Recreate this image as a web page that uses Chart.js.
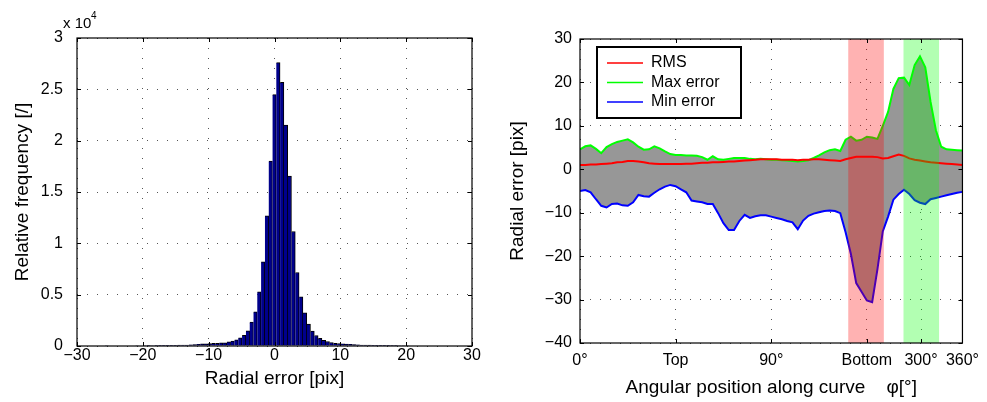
<!DOCTYPE html>
<html lang="en">
<head>
<meta charset="UTF-8">
<title>Radial error</title>
<script src="https://cdn.jsdelivr.net/npm/chart.js@4.4.1/dist/chart.umd.min.js"></script>
<style>
  body { margin: 0; background: #fff; }
  #wrap { position: relative; width: 987px; height: 402px; }
  canvas { position: absolute; top: 0; }
  #histChart { left: 0; }
  #errChart { left: 490px; }
</style>
</head>
<body>
<div id="wrap">
  <canvas id="histChart" width="490" height="402"></canvas>
  <canvas id="errChart" width="497" height="402"></canvas>
</div>
<script>
// --- histogram of radial error (bin centres in pix, counts) ---
const binCenters = [
  -25.45, -24.87, -24.29, -23.72, -23.14, -22.56, -21.98, -21.40, -20.83, -20.25,
  -19.67, -19.09, -18.51, -17.94, -17.36, -16.78, -16.20, -15.62, -15.05, -14.47,
  -13.89, -13.31, -12.73, -12.16, -11.58, -11.00, -10.42, -9.84, -9.27, -8.69,
  -8.11, -7.53, -6.95, -6.38, -5.80, -5.22, -4.64, -4.06, -3.49, -2.91,
  -2.33, -1.75, -1.17, -0.60, -0.02, 0.56, 1.14, 1.72, 2.29, 2.87,
  3.45, 4.03, 4.61, 5.18, 5.76, 6.34, 6.92, 7.50, 8.07, 8.65,
  9.23, 9.81, 10.39, 10.96, 11.54, 12.12, 12.70, 13.28, 13.85, 14.43,
  15.01, 15.59, 16.17, 16.74, 17.32, 17.90, 18.48, 19.06, 19.63, 20.21,
  20.79, 21.37, 21.95, 22.52, 23.10, 23.68, 24.26, 24.84, 25.41, 25.99,
  26.57, 27.15, 27.73, 28.30
];
const binCounts = [
  50, 45, 40, 40, 45, 40, 40, 45, 50, 45,
  50, 55, 50, 55, 60, 60, 65, 70, 75, 80,
  90, 100, 110, 130, 160, 200, 200, 230, 260, 260,
  320, 320, 400, 480, 610, 790, 1050, 1470, 2320, 3330,
  5280, 8200, 12680, 18020, 24480, 27600, 25670, 21520, 16560, 11150,
  7160, 4800, 3240, 2140, 1450, 1020, 750, 550, 440, 340,
  270, 240, 210, 180, 160, 130, 110, 100, 90, 80,
  75, 70, 65, 60, 60, 55, 55, 50, 50, 50,
  45, 45, 45, 40, 40, 40, 40, 40, 40, 40,
  40, 40, 40, 40
];

// --- radial error along the curve ---
const angles = [
  0, 5, 10, 15, 20, 25, 30, 35, 40, 45, 50, 55, 60, 65, 70, 75, 80, 85, 90, 95,
  100, 105, 110, 115, 120, 125, 130, 135, 140, 145, 150, 155, 160, 165, 170, 175, 180, 185, 190, 195,
  200, 205, 210, 215, 220, 225, 230, 235, 240, 245, 250, 255, 260, 265, 270, 275, 280, 285, 290, 295,
  300, 305, 310, 315, 320, 325, 330, 335, 340, 345, 350, 355, 360
];
const rmsErr = [
  1.0, 1.0, 1.1, 1.1, 1.2, 1.3, 1.4, 1.6, 1.7, 1.9, 1.9, 1.8, 1.6, 1.4, 1.3, 1.2, 1.2, 1.2, 1.2, 1.2,
  1.3, 1.3, 1.4, 1.5, 1.5, 1.6, 1.6, 1.7, 1.8, 1.8, 1.9, 2.0, 2.1, 2.2, 2.3, 2.3, 2.3, 2.3, 2.2, 2.2,
  2.2, 2.1, 2.2, 2.2, 2.3, 2.3, 2.2, 2.1, 2.0, 1.9, 2.3, 2.6, 2.9, 2.9, 2.9, 2.9, 2.8, 2.5, 2.6, 3.0,
  3.4, 3.1, 2.5, 2.2, 2.0, 1.8, 1.6, 1.5, 1.4, 1.3, 1.2, 1.1, 1.0
];
const maxErr = [
  4.6, 5.3, 5.5, 4.7, 3.7, 5.1, 5.8, 6.3, 6.6, 6.9, 6.2, 5.2, 4.5, 4.6, 5.3, 4.8, 4.1, 3.5, 3.3, 3.3,
  3.2, 3.2, 3.1, 2.8, 2.2, 3.0, 2.3, 2.2, 2.4, 2.6, 2.6, 2.6, 2.4, 2.3, 2.4, 2.3, 2.2, 2.2, 2.1, 2.0,
  1.9, 1.8, 1.9, 2.1, 2.6, 3.2, 3.9, 4.4, 4.6, 4.2, 6.8, 7.5, 6.6, 6.8, 7.5, 7.3, 7.0, 10.0, 13.2, 18.5,
  21.0, 21.1, 19.4, 24.0, 26.0, 23.5, 15.5, 9.0, 5.2, 4.6, 4.5, 4.4, 4.3
];
const minErr = [
  -5.0, -4.8, -5.3, -6.9, -8.4, -8.8, -8.0, -7.9, -8.3, -8.4, -7.6, -5.9, -6.2, -6.3, -5.4, -4.6, -4.0, -3.6, -3.9, -4.6,
  -5.3, -7.2, -7.4, -7.6, -8.0, -8.0, -10.1, -12.4, -14.0, -14.0, -11.9, -10.5, -11.2, -10.8, -10.6, -10.6, -10.9, -11.2, -11.5, -11.9,
  -12.2, -13.8, -11.8, -10.7, -10.2, -9.9, -9.6, -9.5, -9.6, -10.1, -14.5, -19.5, -26.2, -28.2, -30.2, -30.6, -23.0, -14.3, -10.9, -7.0,
  -5.7, -4.7, -5.7, -7.1, -7.7, -8.0, -6.9, -6.6, -6.3, -6.0, -5.7, -5.4, -5.2
];
const angleTickPos = [0, 90, 180, 270, 321, 360];
const angleTickLabels = ['0°', 'Top', '90°', 'Bottom', '300°', '360°'];
const bottomBand = [252.5, 286];
const topBand = [304.5, 338];

const FONT = '"Liberation Sans", Arial, sans-serif';
Chart.defaults.font.family = FONT;
Chart.defaults.color = '#000';
Chart.defaults.animation = false;

const minus = v => String(v).replace('-', '\u2212');

// matlab style box with inward ticks
const boxPlugin = {
  id: 'box',
  afterDraw(chart) {
    const { ctx, chartArea: a, scales } = chart;
    ctx.save();
    ctx.strokeStyle = '#000';
    ctx.lineWidth = 1;
    ctx.beginPath();
    scales.x.ticks.forEach(t => {
      const px = Math.round(scales.x.getPixelForValue(t.value)) + 0.5;
      ctx.moveTo(px, a.bottom); ctx.lineTo(px, a.bottom - 4);
      ctx.moveTo(px, a.top); ctx.lineTo(px, a.top + 4);
    });
    scales.y.ticks.forEach(t => {
      const py = Math.round(scales.y.getPixelForValue(t.value)) + 0.5;
      ctx.moveTo(a.left, py); ctx.lineTo(a.left + 4, py);
      ctx.moveTo(a.right, py); ctx.lineTo(a.right - 4, py);
    });
    ctx.stroke();
    ctx.lineWidth = 1.2;
    ctx.strokeRect(a.left, a.top, a.width, a.height);
    ctx.restore();
  }
};

const gridOpts = { color: '#555', lineWidth: 1, drawTicks: false, offset: false };
const borderOpts = { display: false, dash: [1, 9] };

// left: histogram
new Chart(document.getElementById('histChart'), {
  type: 'bar',
  data: {
    datasets: [{
      data: binCenters.map((x, i) => ({ x: x, y: binCounts[i] })),
      backgroundColor: '#00008b',
      borderColor: '#000',
      borderWidth: { top: 1, right: 1, left: 0, bottom: 0 },
      barPercentage: 1,
      categoryPercentage: 1
    }]
  },
  options: {
    responsive: false,
    layout: { padding: { top: 38, right: 18, left: 0, bottom: 0 } },
    plugins: { legend: { display: false }, tooltip: { enabled: false } },
    scales: {
      x: {
        type: 'linear', min: -30, max: 30, offset: false,
        ticks: { stepSize: 10, padding: 0, font: { size: 16 }, callback: v => minus(v) },
        grid: gridOpts, border: borderOpts,
        title: { display: true, text: 'Radial error [pix]', font: { size: 19 }, padding: { top: 0, bottom: 12 } },
        afterFit: s => { s.height = 56; }
      },
      y: {
        min: 0, max: 30000,
        ticks: { stepSize: 5000, padding: 14, font: { size: 16 }, callback: v => String(v / 10000) },
        grid: gridOpts, border: borderOpts,
        title: { display: true, text: 'Relative frequency [/]', font: { size: 19 }, padding: { top: 11, bottom: 0 } },
        afterFit: s => { s.width = 77; }
      }
    }
  },
  plugins: [boxPlugin, {
    id: 'exponent',
    afterDraw(chart) {
      const ctx = chart.ctx;
      ctx.save();
      ctx.fillStyle = '#000';
      ctx.font = '15px ' + FONT;
      ctx.fillText('x 10', 63, 28);
      ctx.font = '10px ' + FONT;
      ctx.fillText('4', 91, 19);
      ctx.restore();
    }
  }]
});

// right: error along the curve
const bandPlugin = {
  id: 'bands',
  afterDatasetsDraw(chart) {
    const { ctx, chartArea: a, scales: { x } } = chart;
    ctx.save();
    [[bottomBand, 'rgba(255,0,0,0.3)'], [topBand, 'rgba(0,255,0,0.3)']].forEach(([b, c]) => {
      const x1 = x.getPixelForValue(b[0]), x2 = x.getPixelForValue(b[1]);
      ctx.fillStyle = c;
      ctx.fillRect(x1, a.top, x2 - x1, a.height);
    });
    ctx.restore();
  }
};

const legendPlugin = {
  id: 'boxLegend',
  afterDraw(chart) {
    const { ctx, chartArea: a } = chart;
    const x0 = a.left + 17, y0 = a.top + 8, w = 144, h = 71;
    ctx.save();
    ctx.fillStyle = '#fff';
    ctx.fillRect(x0, y0, w, h);
    ctx.strokeStyle = '#000';
    ctx.lineWidth = 2;
    ctx.strokeRect(x0, y0, w, h);
    ctx.font = '16px ' + FONT;
    ctx.textBaseline = 'middle';
    chart.data.datasets.forEach((ds, i) => {
      const y = y0 + 16 + i * 19.5;
      ctx.strokeStyle = ds.borderColor;
      ctx.lineWidth = 1.5;
      ctx.beginPath();
      ctx.moveTo(x0 + 10, y);
      ctx.lineTo(x0 + 46, y);
      ctx.stroke();
      ctx.fillStyle = '#000';
      ctx.fillText(ds.label, x0 + 54, y);
    });
    ctx.restore();
  }
};

new Chart(document.getElementById('errChart'), {
  type: 'line',
  data: {
    labels: angles,
    datasets: [
      { label: 'RMS', data: rmsErr, borderColor: '#ff0000', borderWidth: 2, pointRadius: 0, fill: false },
      { label: 'Max error', data: maxErr, borderColor: '#00ff00', backgroundColor: '#979797', borderWidth: 2, pointRadius: 0, fill: 2 },
      { label: 'Min error', data: minErr, borderColor: '#0000ff', borderWidth: 2, pointRadius: 0, fill: false }
    ]
  },
  options: {
    responsive: false,
    layout: { padding: { top: 39, right: 20, left: 0, bottom: 0 } },
    plugins: {
      legend: { display: false },
      tooltip: { enabled: false },
      filler: { drawTime: 'beforeDatasetsDraw' }
    },
    scales: {
      x: {
        type: 'linear', min: 0, max: 360,
        afterBuildTicks: s => { s.ticks = angleTickPos.map(v => ({ value: v })); },
        ticks: { padding: 8, font: { size: 16 }, autoSkip: false, maxRotation: 0, callback: (v, i) => angleTickLabels[i] },
        grid: gridOpts, border: borderOpts,
        title: { display: true, text: 'Angular position along curve    \u03c6[°]', font: { size: 19 }, padding: { top: 0, bottom: 3 } },
        afterFit: s => { s.height = 59; }
      },
      y: {
        min: -40, max: 30,
        ticks: { stepSize: 10, padding: 8, font: { size: 16 }, callback: v => minus(v) },
        grid: gridOpts, border: borderOpts,
        title: { display: true, text: 'Radial error [pix]', font: { size: 19 }, padding: { top: 16, bottom: 0 } },
        afterFit: s => { s.width = 90; }
      }
    }
  },
  plugins: [bandPlugin, boxPlugin, legendPlugin]
});
</script>
</body>
</html>
